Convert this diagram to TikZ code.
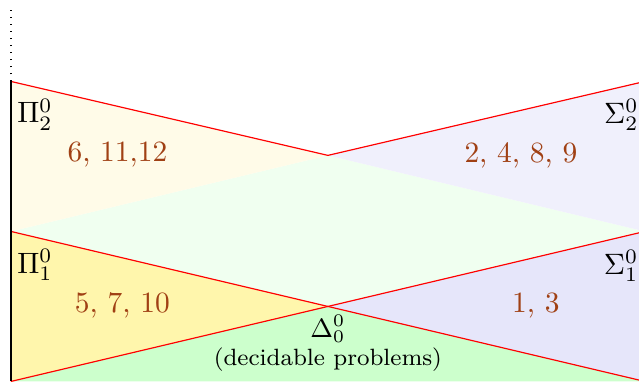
\documentclass[tikz,border=0pt]{standalone}
\usepackage{amsmath,amssymb}
\usepackage{xcolor}
\usepackage{tikz}
\usetikzlibrary{calc}

\definecolor{pione}{RGB}{255,246,172}
\definecolor{pitwo}{RGB}{255,251,232}
\definecolor{sigone}{RGB}{230,230,250}
\definecolor{sigtwo}{RGB}{240,240,252}
\definecolor{deltazero}{RGB}{204,255,204}
\definecolor{deltamid}{RGB}{240,255,240}
\definecolor{probnum}{RGB}{160,64,20}

\begin{document}
\begin{tikzpicture}[x=1.79cm,y=1.79cm]
  \useasboundingbox (-0.073,-0.003) rectangle (4.187,2.543);
  \clip (-0.073,-0.003) rectangle (4.187,2.543);
  \coordinate (L0) at (0,0);
  \coordinate (L1) at (0,1);
  \coordinate (L2) at (0,2);
  \coordinate (M1) at (2.113,0.5);
  \coordinate (M2) at (2.113,1.507);
  \coordinate (E0) at ($(L1)!2!(M1)$);
  \coordinate (E1) at ($(L0)!2!(M1)$);
  \coordinate (E2) at (4.226,2);
  \coordinate (T) at (0,2.49);
  % regions
  \fill[deltazero] (L0)--(M1)--(E0)--cycle;
  \fill[pione] (L0)--(M1)--(L1)--cycle;
  \fill[sigone] (E0)--(M1)--(E1)--cycle;
  \fill[deltamid] (L1)--(M2)--(E1)--(M1)--cycle;
  \fill[pitwo] (L1)--(L2)--(M2)--cycle;
  \fill[sigtwo] (E1)--(E2)--(M2)--cycle;
  % boundaries
  \draw[red] (L1)--(E0);
  \draw[red] (L0)--(E1);
  \draw[red] (L2)--(M2)--(E2);
  \draw (L0)--(L2);
  \draw[dotted] (L2)--(T);
  % classes
  \node (pi2) at (0.16,1.78) {$\Pi^0_2$};
  \node (sig2) at (4.07,1.777) {$\Sigma^0_2$};
  \node (pi1) at (0.16,0.775) {$\Pi^0_1$};
  \node (sig1) at (4.067,0.77) {$\Sigma^0_1$};
  \node[anchor=base] (delta0) at (2.113,0.29) {\small$\Delta^0_0$};
  \node[anchor=base] (dec) at (2.113,0.103) {\footnotesize (decidable problems)};
  % problems
  \node[probnum] (p2) at (0.71,1.51) {6, 11,12};
  \node[probnum] (s2) at (3.40,1.51) {2, 4, 8, 9};
  \node[probnum] (p1) at (0.743,0.505) {5, 7, 10};
  \node[probnum] (s1) at (3.50,0.505) {1, 3};
\end{tikzpicture}
\end{document}
